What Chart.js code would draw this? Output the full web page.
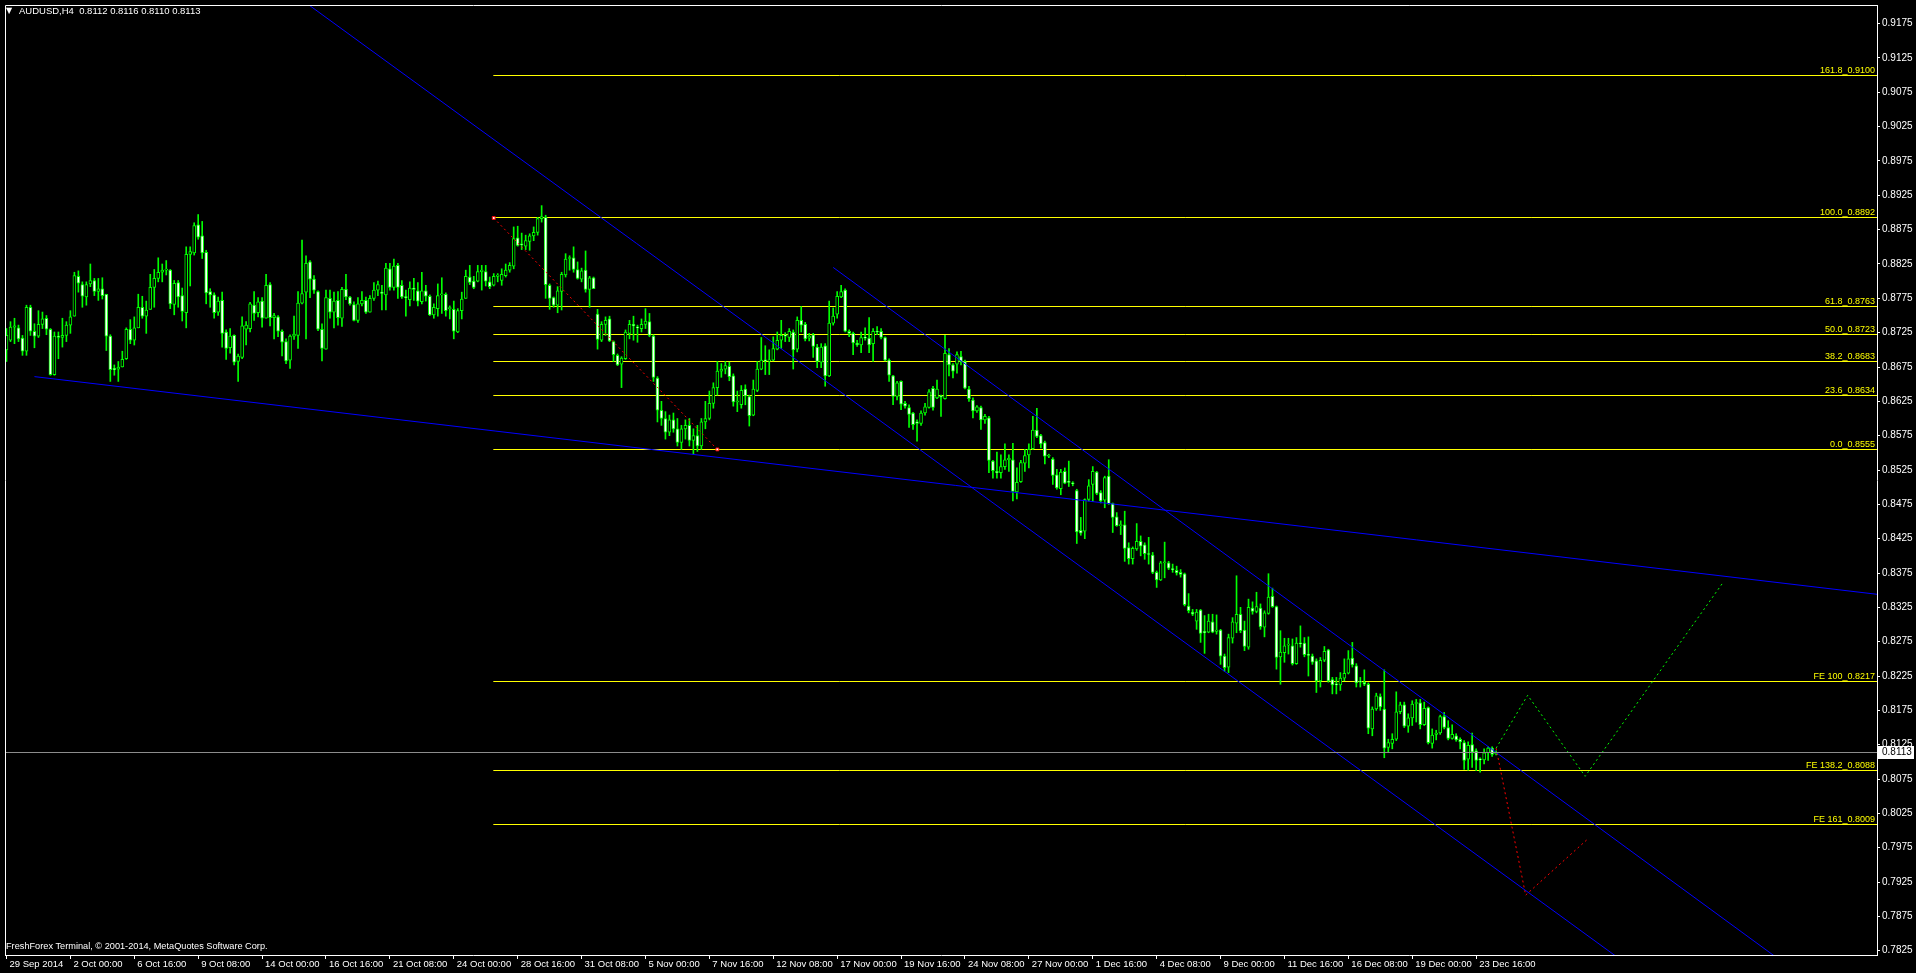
<!DOCTYPE html>
<html>
<head>
<meta charset="utf-8">
<title>AUDUSD,H4</title>
<script src="https://cdn.jsdelivr.net/npm/chart.js@4.4.1/dist/chart.umd.min.js"></script>
<style>
  html, body { margin: 0; padding: 0; background: #000; overflow: hidden; }
  canvas { display: block; }
</style>
</head>
<body>
<canvas id="chart" width="1916" height="973"></canvas>
<script>
// ---- data ----
const symbol = 'AUDUSD,H4';
const lastQuote = [0.8112, 0.8116, 0.8110, 0.8113];
const bid = 0.8113;

// one label every 16 bars, first bar = 29 Sep 2014 08:00
const LABEL_EVERY = 16;
const timeLabels = ['29 Sep 2014', '2 Oct 00:00', '6 Oct 16:00', '9 Oct 08:00', '14 Oct 00:00', '16 Oct 16:00',
  '21 Oct 08:00', '24 Oct 00:00', '28 Oct 16:00', '31 Oct 08:00', '5 Nov 00:00', '7 Nov 16:00', '12 Nov 08:00',
  '17 Nov 00:00', '19 Nov 16:00', '24 Nov 08:00', '27 Nov 00:00', '1 Dec 16:00', '4 Dec 08:00', '9 Dec 00:00',
  '11 Dec 16:00', '16 Dec 08:00', '19 Dec 00:00', '23 Dec 16:00'];

const priceTicks = [0.7825, 0.7875, 0.7925, 0.7975, 0.8025, 0.8075, 0.8125, 0.8175, 0.8225, 0.8275, 0.8325,
  0.8375, 0.8425, 0.8475, 0.8525, 0.8575, 0.8625, 0.8675, 0.8725, 0.8775, 0.8825, 0.8875, 0.8925, 0.8975,
  0.9025, 0.9075, 0.9125, 0.9175];

const open = [
  0.8700,0.8714,0.8733,0.8732,0.8717,0.8698,0.8762,0.8727,0.8720,0.8737,
  0.8746,0.8730,0.8664,0.8720,0.8718,0.8721,0.8736,0.8749,0.8807,0.8795,
  0.8777,0.8796,0.8801,0.8785,0.8789,0.8781,0.8720,0.8673,0.8672,0.8675,
  0.8687,0.8730,0.8714,0.8732,0.8762,0.8749,0.8759,0.8791,0.8804,0.8813,
  0.8816,0.8816,0.8766,0.8798,0.8779,0.8754,0.8839,0.8841,0.8882,0.8866,
  0.8842,0.8785,0.8780,0.8755,0.8772,0.8726,0.8703,0.8721,0.8683,0.8689,
  0.8730,0.8731,0.8765,0.8754,0.8771,0.8746,0.8795,0.8747,0.8748,0.8727,
  0.8712,0.8685,0.8720,0.8721,0.8768,0.8784,0.8828,0.8803,0.8785,0.8730,
  0.8701,0.8775,0.8755,0.8772,0.8746,0.8788,0.8777,0.8766,0.8743,0.8767,
  0.8772,0.8755,0.8775,0.8787,0.8784,0.8780,0.8818,0.8791,0.8823,0.8794,
  0.8777,0.8773,0.8790,0.8786,0.8770,0.8786,0.8778,0.8751,0.8760,0.8780,
  0.8781,0.8760,0.8759,0.8726,0.8757,0.8775,0.8806,0.8800,0.8800,0.8814,
  0.8814,0.8799,0.8794,0.8807,0.8801,0.8808,0.8816,0.8822,0.8863,0.8854,
  0.8851,0.8858,0.8866,0.8871,0.8891,0.8893,0.8794,0.8776,0.8765,0.8785,
  0.8809,0.8833,0.8834,0.8817,0.8803,0.8816,0.8788,0.8805,0.8752,0.8714,
  0.8737,0.8745,0.8712,0.8692,0.8679,0.8687,0.8724,0.8737,0.8733,0.8731,
  0.8737,0.8741,0.8720,0.8659,0.8612,0.8600,0.8580,0.8598,0.8585,0.8565,
  0.8585,0.8590,0.8568,0.8575,0.8560,0.8595,0.8600,0.8622,0.8645,0.8669,
  0.8672,0.8676,0.8662,0.8624,0.8620,0.8643,0.8632,0.8605,0.8641,0.8672,
  0.8685,0.8684,0.8685,0.8701,0.8714,0.8721,0.8718,0.8726,0.8701,0.8743,
  0.8737,0.8717,0.8722,0.8704,0.8682,0.8706,0.8662,0.8739,0.8752,0.8777,
  0.8787,0.8727,0.8724,0.8710,0.8707,0.8718,0.8717,0.8709,0.8727,0.8727,
  0.8718,0.8685,0.8662,0.8632,0.8654,0.8622,0.8616,0.8608,0.8595,0.8593,
  0.8608,0.8616,0.8644,0.8630,0.8633,0.8629,0.8693,0.8678,0.8679,0.8690,
  0.8683,0.8643,0.8627,0.8611,0.8616,0.8598,0.8601,0.8538,0.8523,0.8521,
  0.8530,0.8540,0.8540,0.8493,0.8508,0.8535,0.8547,0.8556,0.8583,0.8575,
  0.8565,0.8545,0.8541,0.8518,0.8498,0.8523,0.8508,0.8506,0.8495,0.8437,
  0.8436,0.8482,0.8504,0.8522,0.8492,0.8481,0.8516,0.8476,0.8457,0.8444,
  0.8445,0.8412,0.8396,0.8410,0.8421,0.8416,0.8403,0.8401,0.8376,0.8365,
  0.8390,0.8390,0.8381,0.8379,0.8376,0.8374,0.8327,0.8318,0.8305,0.8321,
  0.8290,0.8289,0.8304,0.8290,0.8292,0.8254,0.8238,0.8280,0.8302,0.8315,
  0.8292,0.8267,0.8324,0.8319,0.8324,0.8296,0.8316,0.8341,0.8326,0.8253,
  0.8259,0.8270,0.8269,0.8243,0.8273,0.8273,0.8256,0.8254,0.8247,0.8218,
  0.8248,0.8263,0.8220,0.8213,0.8212,0.8222,0.8229,0.8251,0.8240,0.8217,
  0.8216,0.8213,0.8148,0.8177,0.8195,0.8177,0.8121,0.8127,0.8133,0.8173,
  0.8183,0.8152,0.8164,0.8185,0.8186,0.8154,0.8179,0.8127,0.8140,0.8142,
  0.8166,0.8150,0.8134,0.8138,0.8133,0.8128,0.8104,0.8125,0.8116,0.8104,
  0.8103,0.8113,0.8120,0.8112
];
const high = [
  0.8731,0.8741,0.8746,0.8736,0.8721,0.8765,0.8765,0.8738,0.8757,0.8755,
  0.8750,0.8731,0.8726,0.8726,0.8746,0.8741,0.8757,0.8813,0.8815,0.8799,
  0.8799,0.8825,0.8804,0.8804,0.8805,0.8781,0.8722,0.8678,0.8683,0.8698,
  0.8732,0.8744,0.8748,0.8781,0.8778,0.8771,0.8810,0.8817,0.8834,0.8825,
  0.8830,0.8817,0.8801,0.8801,0.8790,0.8850,0.8850,0.8885,0.8897,0.8887,
  0.8845,0.8789,0.8783,0.8777,0.8784,0.8729,0.8731,0.8722,0.8694,0.8748,
  0.8741,0.8769,0.8785,0.8776,0.8776,0.8810,0.8798,0.8753,0.8750,0.8729,
  0.8716,0.8722,0.8749,0.8785,0.8860,0.8837,0.8830,0.8808,0.8786,0.8738,
  0.8787,0.8787,0.8784,0.8785,0.8791,0.8810,0.8778,0.8770,0.8776,0.8785,
  0.8777,0.8779,0.8798,0.8800,0.8794,0.8826,0.8826,0.8832,0.8826,0.8801,
  0.8787,0.8799,0.8804,0.8798,0.8813,0.8794,0.8780,0.8767,0.8796,0.8805,
  0.8783,0.8764,0.8771,0.8760,0.8784,0.8816,0.8823,0.8807,0.8823,0.8823,
  0.8823,0.8806,0.8811,0.8811,0.8818,0.8825,0.8827,0.8879,0.8880,0.8870,
  0.8867,0.8869,0.8879,0.8893,0.8910,0.8896,0.8796,0.8777,0.8792,0.8813,
  0.8840,0.8837,0.8850,0.8828,0.8819,0.8844,0.8807,0.8806,0.8759,0.8741,
  0.8748,0.8749,0.8713,0.8694,0.8690,0.8729,0.8743,0.8749,0.8736,0.8745,
  0.8760,0.8753,0.8722,0.8661,0.8625,0.8610,0.8605,0.8608,0.8600,0.8590,
  0.8598,0.8600,0.8585,0.8590,0.8600,0.8625,0.8640,0.8652,0.8683,0.8680,
  0.8683,0.8682,0.8665,0.8640,0.8648,0.8649,0.8634,0.8656,0.8683,0.8718,
  0.8706,0.8700,0.8719,0.8726,0.8743,0.8725,0.8731,0.8729,0.8748,0.8763,
  0.8740,0.8724,0.8724,0.8708,0.8709,0.8709,0.8771,0.8761,0.8785,0.8794,
  0.8789,0.8729,0.8726,0.8714,0.8726,0.8732,0.8747,0.8731,0.8734,0.8731,
  0.8719,0.8687,0.8663,0.8654,0.8655,0.8625,0.8620,0.8609,0.8598,0.8611,
  0.8622,0.8642,0.8647,0.8656,0.8634,0.8721,0.8702,0.8680,0.8697,0.8698,
  0.8685,0.8647,0.8630,0.8619,0.8618,0.8606,0.8603,0.8539,0.8551,0.8547,
  0.8563,0.8547,0.8564,0.8528,0.8539,0.8555,0.8563,0.8603,0.8615,0.8577,
  0.8567,0.8548,0.8543,0.8526,0.8526,0.8528,0.8538,0.8508,0.8497,0.8456,
  0.8483,0.8511,0.8530,0.8523,0.8495,0.8516,0.8540,0.8477,0.8463,0.8451,
  0.8465,0.8419,0.8413,0.8447,0.8429,0.8419,0.8427,0.8405,0.8378,0.8392,
  0.8420,0.8392,0.8388,0.8385,0.8380,0.8375,0.8345,0.8322,0.8322,0.8322,
  0.8313,0.8315,0.8315,0.8314,0.8293,0.8257,0.8286,0.8310,0.8371,0.8325,
  0.8305,0.8337,0.8333,0.8347,0.8330,0.8320,0.8374,0.8353,0.8327,0.8291,
  0.8280,0.8280,0.8279,0.8281,0.8298,0.8281,0.8282,0.8257,0.8250,0.8252,
  0.8268,0.8264,0.8223,0.8223,0.8230,0.8250,0.8262,0.8274,0.8243,0.8223,
  0.8234,0.8215,0.8180,0.8200,0.8199,0.8234,0.8133,0.8141,0.8202,0.8187,
  0.8187,0.8170,0.8189,0.8191,0.8191,0.8187,0.8180,0.8148,0.8146,0.8168,
  0.8172,0.8160,0.8154,0.8141,0.8135,0.8131,0.8129,0.8142,0.8119,0.8106,
  0.8119,0.8122,0.8122,0.8116
];
const low = [
  0.8683,0.8712,0.8709,0.8712,0.8692,0.8692,0.8721,0.8703,0.8718,0.8731,
  0.8722,0.8663,0.8663,0.8687,0.8704,0.8712,0.8724,0.8749,0.8784,0.8762,
  0.8765,0.8792,0.8779,0.8772,0.8774,0.8699,0.8654,0.8663,0.8654,0.8675,
  0.8686,0.8709,0.8707,0.8732,0.8746,0.8724,0.8759,0.8762,0.8799,0.8799,
  0.8809,0.8760,0.8751,0.8762,0.8742,0.8732,0.8793,0.8838,0.8861,0.8833,
  0.8767,0.8762,0.8746,0.8750,0.8704,0.8686,0.8695,0.8678,0.8654,0.8687,
  0.8707,0.8726,0.8743,0.8748,0.8733,0.8746,0.8735,0.8716,0.8719,0.8691,
  0.8680,0.8673,0.8715,0.8702,0.8767,0.8716,0.8776,0.8782,0.8728,0.8684,
  0.8701,0.8746,0.8732,0.8736,0.8734,0.8773,0.8765,0.8742,0.8740,0.8764,
  0.8753,0.8755,0.8772,0.8779,0.8758,0.8758,0.8787,0.8787,0.8775,0.8775,
  0.8749,0.8764,0.8772,0.8764,0.8767,0.8771,0.8750,0.8746,0.8749,0.8753,
  0.8749,0.8745,0.8716,0.8725,0.8745,0.8775,0.8795,0.8789,0.8799,0.8787,
  0.8793,0.8789,0.8793,0.8799,0.8794,0.8806,0.8813,0.8818,0.8851,0.8846,
  0.8846,0.8845,0.8859,0.8867,0.8886,0.8775,0.8759,0.8762,0.8754,0.8758,
  0.8806,0.8816,0.8813,0.8803,0.8799,0.8784,0.8762,0.8789,0.8701,0.8712,
  0.8721,0.8712,0.8683,0.8677,0.8645,0.8686,0.8716,0.8714,0.8711,0.8726,
  0.8731,0.8719,0.8654,0.8595,0.8590,0.8570,0.8575,0.8580,0.8560,0.8555,
  0.8570,0.8560,0.8548,0.8552,0.8555,0.8585,0.8598,0.8615,0.8634,0.8660,
  0.8665,0.8655,0.8618,0.8610,0.8615,0.8620,0.8589,0.8604,0.8639,0.8671,
  0.8664,0.8664,0.8684,0.8700,0.8702,0.8712,0.8712,0.8672,0.8697,0.8726,
  0.8713,0.8713,0.8689,0.8674,0.8674,0.8647,0.8661,0.8736,0.8746,0.8776,
  0.8726,0.8719,0.8693,0.8705,0.8696,0.8714,0.8696,0.8683,0.8722,0.8716,
  0.8684,0.8654,0.8620,0.8627,0.8613,0.8615,0.8587,0.8584,0.8567,0.8590,
  0.8605,0.8615,0.8612,0.8629,0.8603,0.8628,0.8662,0.8659,0.8666,0.8678,
  0.8643,0.8625,0.8601,0.8609,0.8584,0.8593,0.8521,0.8513,0.8513,0.8513,
  0.8526,0.8523,0.8480,0.8483,0.8507,0.8523,0.8528,0.8555,0.8572,0.8557,
  0.8534,0.8543,0.8504,0.8497,0.8489,0.8505,0.8501,0.8502,0.8418,0.8430,
  0.8425,0.8480,0.8479,0.8489,0.8477,0.8470,0.8475,0.8434,0.8443,0.8431,
  0.8392,0.8388,0.8388,0.8408,0.8400,0.8395,0.8388,0.8374,0.8354,0.8364,
  0.8368,0.8380,0.8376,0.8372,0.8369,0.8327,0.8317,0.8313,0.8293,0.8274,
  0.8258,0.8288,0.8288,0.8286,0.8242,0.8232,0.8230,0.8273,0.8288,0.8288,
  0.8262,0.8264,0.8315,0.8317,0.8293,0.8282,0.8315,0.8325,0.8235,0.8213,
  0.8245,0.8257,0.8241,0.8242,0.8267,0.8253,0.8225,0.8242,0.8201,0.8209,
  0.8246,0.8216,0.8199,0.8199,0.8204,0.8218,0.8228,0.8238,0.8209,0.8209,
  0.8211,0.8141,0.8138,0.8175,0.8175,0.8106,0.8114,0.8119,0.8131,0.8170,
  0.8150,0.8143,0.8153,0.8158,0.8148,0.8153,0.8126,0.8120,0.8132,0.8140,
  0.8148,0.8132,0.8133,0.8130,0.8119,0.8089,0.8088,0.8092,0.8087,0.8085,
  0.8097,0.8102,0.8108,0.8110
];
const close = [
  0.8721,0.8733,0.8735,0.8716,0.8698,0.8762,0.8727,0.8720,0.8737,0.8745,
  0.8730,0.8664,0.8720,0.8718,0.8721,0.8736,0.8748,0.8808,0.8797,0.8778,
  0.8795,0.8801,0.8785,0.8789,0.8779,0.8720,0.8671,0.8671,0.8675,0.8686,
  0.8730,0.8714,0.8732,0.8762,0.8749,0.8758,0.8791,0.8804,0.8813,0.8816,
  0.8817,0.8767,0.8797,0.8777,0.8756,0.8839,0.8843,0.8881,0.8864,0.8841,
  0.8783,0.8780,0.8754,0.8771,0.8724,0.8702,0.8720,0.8682,0.8691,0.8735,
  0.8736,0.8767,0.8753,0.8770,0.8746,0.8794,0.8747,0.8750,0.8727,0.8711,
  0.8684,0.8720,0.8723,0.8768,0.8782,0.8826,0.8803,0.8787,0.8730,0.8702,
  0.8776,0.8755,0.8771,0.8747,0.8788,0.8777,0.8767,0.8743,0.8767,0.8772,
  0.8755,0.8775,0.8787,0.8795,0.8782,0.8819,0.8791,0.8822,0.8791,0.8777,
  0.8776,0.8790,0.8788,0.8771,0.8786,0.8778,0.8751,0.8762,0.8779,0.8781,
  0.8757,0.8761,0.8727,0.8757,0.8774,0.8807,0.8798,0.8791,0.8814,0.8816,
  0.8800,0.8792,0.8807,0.8809,0.8810,0.8816,0.8823,0.8862,0.8852,0.8853,
  0.8859,0.8866,0.8871,0.8891,0.8894,0.8795,0.8775,0.8765,0.8786,0.8810,
  0.8832,0.8834,0.8817,0.8804,0.8815,0.8788,0.8805,0.8789,0.8715,0.8737,
  0.8743,0.8713,0.8693,0.8678,0.8688,0.8726,0.8737,0.8735,0.8732,0.8737,
  0.8742,0.8721,0.8660,0.8612,0.8600,0.8580,0.8598,0.8585,0.8565,0.8585,
  0.8590,0.8568,0.8575,0.8560,0.8595,0.8600,0.8622,0.8645,0.8669,0.8672,
  0.8677,0.8661,0.8624,0.8625,0.8641,0.8633,0.8604,0.8643,0.8672,0.8685,
  0.8684,0.8685,0.8702,0.8714,0.8721,0.8720,0.8727,0.8700,0.8743,0.8736,
  0.8716,0.8720,0.8705,0.8683,0.8704,0.8662,0.8739,0.8749,0.8778,0.8785,
  0.8727,0.8724,0.8710,0.8707,0.8718,0.8717,0.8707,0.8727,0.8726,0.8718,
  0.8685,0.8663,0.8632,0.8652,0.8621,0.8618,0.8606,0.8591,0.8593,0.8608,
  0.8617,0.8639,0.8616,0.8643,0.8631,0.8695,0.8678,0.8669,0.8693,0.8683,
  0.8644,0.8629,0.8611,0.8617,0.8598,0.8603,0.8539,0.8524,0.8521,0.8530,
  0.8540,0.8542,0.8494,0.8507,0.8536,0.8546,0.8555,0.8583,0.8574,0.8563,
  0.8545,0.8546,0.8517,0.8499,0.8522,0.8506,0.8507,0.8505,0.8435,0.8433,
  0.8482,0.8502,0.8523,0.8491,0.8480,0.8514,0.8476,0.8456,0.8444,0.8445,
  0.8411,0.8396,0.8411,0.8421,0.8414,0.8403,0.8402,0.8376,0.8365,0.8390,
  0.8391,0.8382,0.8380,0.8375,0.8373,0.8329,0.8320,0.8315,0.8318,0.8287,
  0.8288,0.8305,0.8289,0.8292,0.8254,0.8237,0.8281,0.8304,0.8315,0.8291,
  0.8268,0.8325,0.8319,0.8326,0.8297,0.8317,0.8340,0.8326,0.8252,0.8260,
  0.8269,0.8271,0.8243,0.8273,0.8272,0.8256,0.8255,0.8245,0.8218,0.8248,
  0.8261,0.8218,0.8212,0.8212,0.8222,0.8229,0.8250,0.8241,0.8215,0.8216,
  0.8213,0.8149,0.8177,0.8196,0.8180,0.8120,0.8128,0.8133,0.8173,0.8183,
  0.8152,0.8164,0.8184,0.8186,0.8154,0.8178,0.8128,0.8139,0.8142,0.8166,
  0.8150,0.8134,0.8140,0.8132,0.8129,0.8102,0.8124,0.8114,0.8102,0.8103,
  0.8113,0.8120,0.8111,0.8113
];

// Fibonacci retracement (anchors at bar 122 / 0.8892 and bar 178 / 0.8555) and expansion
const fibLevels = ['161.8', '100.0', '61.8', '50.0', '38.2', '23.6', '0.0'];
const fibPrices = [0.9100, 0.8892, 0.8763, 0.8723, 0.8683, 0.8634, 0.8555];
const feLevels = ['FE 100', 'FE 138.2', 'FE 161'];
const fePrices = [0.8217, 0.8088, 0.8009];
const fibAnchors = [[122, 0.8892], [178, 0.8555]];

// trend lines as [bar, price] points
const channelOuter = [[76, 0.9201], [403, 0.7817]];
const channelInner = [[207, 0.8820], [443, 0.7816]];
const supportLine = [[7, 0.8661], [468.4, 0.8344]];
const bullPath = [[373, 0.8120], [380.9, 0.8197], [395.3, 0.8079], [429.8, 0.8361]];
const bearPath = [[373, 0.8120], [380.4, 0.7906], [396.2, 0.7989]];

// ---- view ----
const X_MIN = -0.375, X_MAX = 468.375;
const Y_MIN = 0.781876, Y_MAX = 0.920215;
const FONT = '"Liberation Sans", Arial, sans-serif';
const LIME = '#00ff00';

const bars = close.map((_, i) => i);
const pts = arr => arr.map(([x, y]) => ({ x, y }));

const datasets = [];

fibPrices.concat(fePrices).forEach(p => {
  datasets.push({
    type: 'line', order: 6, snap: true,
    data: [{ x: fibAnchors[0][0] - 0.1, y: p }, { x: X_MAX, y: p }],
    borderColor: '#ffff00', borderWidth: 1, pointRadius: 0
  });
});

datasets.push({
  type: 'bar', order: 5, grouped: false,
  data: bars.map(i => ({ x: i, y: [low[i], high[i]] })),
  backgroundColor: LIME, borderWidth: 0, barThickness: 1
});
datasets.push({
  type: 'bar', order: 4, grouped: false,
  data: bars.map(i => ({ x: i, y: [open[i], close[i]] })),
  backgroundColor: bars.map(i => close[i] < open[i] ? '#ffffff' : '#000000'),
  borderColor: LIME, borderWidth: 1, borderSkipped: false, barThickness: 3, minBarLength: 1
});

[channelOuter, channelInner, supportLine].forEach(line => {
  datasets.push({
    type: 'line', order: 2, data: pts(line),
    borderColor: '#0000ff', borderWidth: 1, pointRadius: 0
  });
});

datasets.push({
  type: 'line', order: 2, data: pts(fibAnchors),
  borderColor: '#ff0000', borderWidth: 1, borderDash: [2, 3],
  pointRadius: 2, pointStyle: 'rect', pointBackgroundColor: '#ffffff', pointBorderColor: '#ff0000', pointBorderWidth: 1
});
datasets.push({
  type: 'line', order: 2, data: pts(bullPath),
  borderColor: LIME, borderWidth: 1, borderDash: [2, 3], pointRadius: 0
});
datasets.push({
  type: 'line', order: 2, data: pts(bearPath),
  borderColor: '#ff0000', borderWidth: 1, borderDash: [2, 3], pointRadius: 0
});
datasets.push({
  type: 'line', order: 1, snap: true, data: [{ x: X_MIN, y: bid }, { x: X_MAX, y: bid }],
  borderColor: '#8c8c8c', borderWidth: 1, pointRadius: 0
});

// keep horizontal levels on whole pixel rows so they stay sharp like the terminal draws them
const pixelSnap = {
  id: 'pixelSnap',
  afterDatasetsUpdate(chart) {
    chart.data.datasets.forEach((ds, i) => {
      if (!ds.snap) return;
      const meta = chart.getDatasetMeta(i);
      meta.data.forEach(p => { p.y = Math.floor(p.y) + 0.5; });
      if (meta.dataset) meta.dataset._path = undefined;
    });
  }
};

const overlay = {
  id: 'overlay',
  afterDraw(chart) {
    const { ctx, chartArea: a, scales: { y } } = chart;
    const rowOf = v => Math.floor(y.getPixelForValue(v));
    ctx.save();
    // window frame (left / top)
    ctx.strokeStyle = '#ffffff';
    ctx.lineWidth = 1;
    ctx.beginPath();
    ctx.moveTo(a.left + 0.5, a.bottom);
    ctx.lineTo(a.left + 0.5, a.top + 0.5);
    ctx.lineTo(a.right, a.top + 0.5);
    ctx.stroke();

    // level captions
    ctx.font = '9px ' + FONT;
    ctx.fillStyle = '#ffff00';
    ctx.textAlign = 'right';
    ctx.textBaseline = 'alphabetic';
    fibLevels.forEach((lv, i) => {
      ctx.fillText(lv + '_' + fibPrices[i].toFixed(4), a.right - 2, rowOf(fibPrices[i]) - 2);
    });
    feLevels.forEach((lv, i) => {
      ctx.fillText(lv + '_' + fePrices[i].toFixed(4), a.right - 2, rowOf(fePrices[i]) - 2);
    });

    // header
    ctx.fillStyle = '#ffffff';
    ctx.textAlign = 'left';
    ctx.textBaseline = 'middle';
    ctx.font = '8px "DejaVu Sans", sans-serif';
    ctx.fillText('\u25BC', 6, 11);
    ctx.font = '9.5px ' + FONT;
    ctx.fillText(symbol + '  ' + lastQuote.map(v => v.toFixed(4)).join(' '), 19, 11);
    ctx.font = '9.2px ' + FONT;
    ctx.fillText('FreshForex Terminal, \u00A9 2001-2014, MetaQuotes Software Corp.', 6, 946);

    // bid label on the price axis
    const py = rowOf(bid);
    ctx.fillStyle = '#ffffff';
    ctx.fillRect(a.right + 1, py - 6, 36, 13);
    ctx.fillStyle = '#000000';
    ctx.font = '10px ' + FONT;
    ctx.fillText(bid.toFixed(4), a.right + 5, py + 0.5);
    ctx.restore();
  }
};

new Chart(document.getElementById('chart'), {
  type: 'bar',
  data: { datasets },
  options: {
    responsive: false,
    animation: false,
    events: [],
    layout: { padding: { left: 2, top: 2, right: 0, bottom: 0 } },
    plugins: { legend: { display: false }, tooltip: { enabled: false } },
    scales: {
      x: {
        type: 'linear', min: X_MIN, max: X_MAX, offset: false, bounds: 'data',
        afterBuildTicks: s => { s.ticks = timeLabels.map((t, k) => ({ value: k * LABEL_EVERY })); },
        afterFit: s => { s.height = 18; s.paddingLeft = 0; s.paddingRight = 0; },
        ticks: {
          callback: (v, i) => timeLabels[i],
          align: 'start', labelOffset: 3, padding: 0,
          autoSkip: false, maxRotation: 0, minRotation: 0,
          color: '#ffffff', font: { family: FONT, size: 9.5 }
        },
        grid: { drawOnChartArea: false, drawTicks: true, tickLength: 4, color: '#ffffff', offset: false },
        border: { display: true, color: '#ffffff', width: 1 }
      },
      y: {
        type: 'linear', position: 'right', min: Y_MIN, max: Y_MAX, bounds: 'data', beginAtZero: false,
        afterBuildTicks: s => { s.ticks = priceTicks.map(v => ({ value: v })); },
        afterFit: s => { s.width = 39; s.paddingTop = 0; s.paddingBottom = 0; },
        ticks: {
          callback: v => v.toFixed(4),
          autoSkip: false, padding: 2,
          color: '#ffffff', font: { family: FONT, size: 10 }
        },
        grid: { drawOnChartArea: false, drawTicks: true, tickLength: 3, color: '#ffffff' },
        border: { display: true, color: '#ffffff', width: 1 }
      }
    }
  },
  plugins: [pixelSnap, overlay]
});
</script>
</body>
</html>
